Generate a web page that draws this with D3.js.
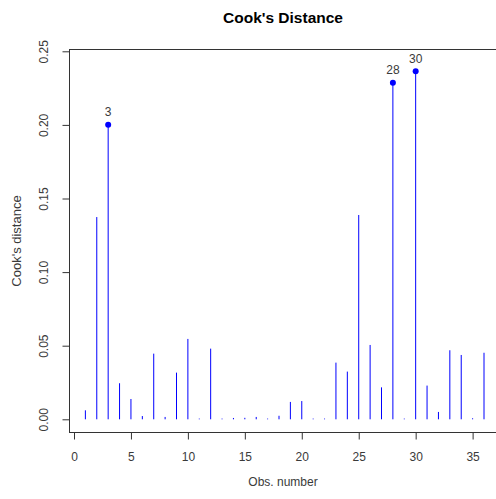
<!DOCTYPE html>
<html>
<head>
<meta charset="utf-8">
<script src="https://cdn.jsdelivr.net/npm/d3@7"></script>
<style>
  html, body { margin: 0; padding: 0; background: #fff; }
  svg { display: block; font-family: "Liberation Sans", Arial, sans-serif; }
</style>
</head>
<body>
<svg id="chart" width="496" height="499"></svg>
<script>
// Cook's distance for each observation (1..36)
const obs = d3.range(1, 37);
const cooks = [
  0.0061, 0.1374, 0.2001, 0.0245, 0.0138, 0.0022, 0.0446, 0.0016, 0.0317, 0.0546,
  0.0005, 0.0480, 0.0005, 0.0009, 0.0010, 0.0016, 0.0005, 0.0024, 0.0118, 0.0124,
  0.0005, 0.0005, 0.0385, 0.0324, 0.1388, 0.0505, 0.0217, 0.2287, 0.0005, 0.2364,
  0.0229, 0.0050, 0.0469, 0.0437, 0.0007, 0.0452
];
const xTicks = [0, 5, 10, 15, 20, 25, 30, 35];
const yTicks = [0.00, 0.05, 0.10, 0.15, 0.20, 0.25];
const nLabels = 3; // most influential observations get labelled

const svg = d3.select("#chart");
const frame = { left: 69.5, top: 49.5, bottom: 432.5, right: 520 };

const x = d3.scaleLinear().domain([0, 36]).range([74, 484]);
const y = d3.scaleLinear().domain([0, 0.25]).range([419.3, 51.3]);

const axisColor = "#333";
const textColor = "#3a3a3a";

// plot frame (right edge falls outside the canvas)
svg.append("rect")
  .attr("x", frame.left).attr("y", frame.top)
  .attr("width", frame.right - frame.left)
  .attr("height", frame.bottom - frame.top)
  .attr("fill", "none").attr("stroke", axisColor).attr("stroke-width", 1);

// y axis
const gy = svg.append("g")
  .attr("transform", `translate(${frame.left},0)`)
  .call(d3.axisLeft(y).tickValues(yTicks).tickSize(7).tickFormat(d3.format(".2f")));
gy.select(".domain").remove();
gy.selectAll(".tick line").attr("stroke", axisColor);
gy.selectAll(".tick text")
  .attr("x", 0).attr("dy", null)
  .attr("transform", "translate(-25,0) rotate(-90)")
  .attr("text-anchor", "middle")
  .attr("dominant-baseline", "middle")
  .attr("font-size", 12)
  .attr("font-family", "Liberation Sans, Arial, sans-serif")
  .attr("fill", textColor);

// x axis
const gx = svg.append("g")
  .attr("transform", `translate(0,${frame.bottom})`)
  .call(d3.axisBottom(x).tickValues(xTicks).tickSize(7).tickFormat(d3.format("d")));
gx.select(".domain").remove();
gx.selectAll(".tick line").attr("stroke", axisColor);
gx.selectAll(".tick text")
  .attr("y", 24).attr("dy", "0.35em")
  .attr("font-size", 12)
  .attr("font-family", "Liberation Sans, Arial, sans-serif")
  .attr("fill", textColor);

// vertical lines from zero to each distance
const data = obs.map((o, i) => ({ obs: o, d: cooks[i] }));
svg.append("g").selectAll("line")
  .data(data).join("line")
  .attr("x1", d => x(d.obs)).attr("x2", d => x(d.obs))
  .attr("y1", y(0)).attr("y2", d => y(d.d))
  .attr("stroke", "#0000ff").attr("stroke-width", 1);

// highlight the largest values
const largest = data.slice().sort((a, b) => b.d - a.d).slice(0, nLabels);
svg.append("g").selectAll("circle")
  .data(largest).join("circle")
  .attr("cx", d => x(d.obs)).attr("cy", d => y(d.d))
  .attr("r", 3).attr("fill", "#0000ff");
svg.append("g").selectAll("text")
  .data(largest).join("text")
  .attr("x", d => x(d.obs)).attr("y", d => y(d.d) - 13)
  .attr("dy", "0.35em")
  .attr("text-anchor", "middle")
  .attr("font-size", 12)
  .attr("fill", textColor)
  .text(d => d.obs);

// titles
svg.append("text")
  .attr("x", 283).attr("y", 18).attr("dy", "0.35em")
  .attr("text-anchor", "middle")
  .attr("font-size", 15.5).attr("font-weight", "bold")
  .attr("fill", "#000")
  .text("Cook's Distance");
svg.append("text")
  .attr("x", 283).attr("y", 482).attr("dy", "0.35em")
  .attr("text-anchor", "middle")
  .attr("font-size", 12).attr("fill", textColor)
  .text("Obs. number");
svg.append("text")
  .attr("transform", "translate(16,241) rotate(-90)")
  .attr("dy", "0.35em")
  .attr("text-anchor", "middle")
  .attr("font-size", 13).attr("fill", textColor)
  .text("Cook's distance");
</script>
</body>
</html>
